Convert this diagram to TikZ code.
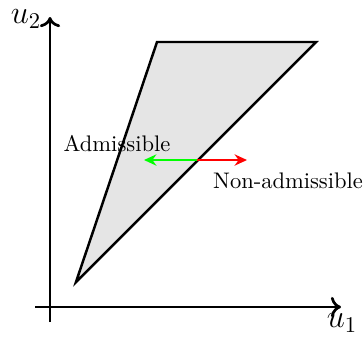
\documentclass[tikz,border=0pt]{standalone}
\usetikzlibrary{arrows.meta}
\begin{document}
\begin{tikzpicture}[x=0.444pt,y=-0.444pt,
  axis/.style={line width=1.2pt,-{To[length=4.5pt,width=9pt]}},
  region/.style={line width=1.1pt,fill=black!10,line join=miter},
  dir/.style={line width=1.1pt,-{Stealth[length=5.5pt,width=5pt]}},
  lbl/.style={inner sep=0pt,font=\normalsize},
  axlbl/.style={inner sep=0pt,font=\Large}]
\useasboundingbox (0,0) rectangle (364,340);
\coordinate (xs) at (35,307);
\coordinate (xe) at (341,307);
\coordinate (ys) at (50,322);
\coordinate (ye) at (50,17);
\draw[axis] (xs) -- (xe);
\draw[axis] (ys) -- (ye);
\node[axlbl] (u1) at (342,323) {$u_1$};
\node[axlbl] (u2) at (26,19) {$u_2$};
\coordinate (A) at (76,282);
\coordinate (B) at (157,42);
\coordinate (C) at (316,42);
\draw[region] (A) -- (B) -- (C) -- cycle;
\coordinate (P) at (197,160);
\coordinate (G) at (144,160);
\coordinate (R) at (247,160);
\draw[dir,green] (P) -- (G);
\draw[dir,red] (P) -- (R);
\node[lbl] (adm) at (117,144) {Admissible};
\node[lbl] (non) at (288,181) {Non-admissible};
\end{tikzpicture}
\end{document}
